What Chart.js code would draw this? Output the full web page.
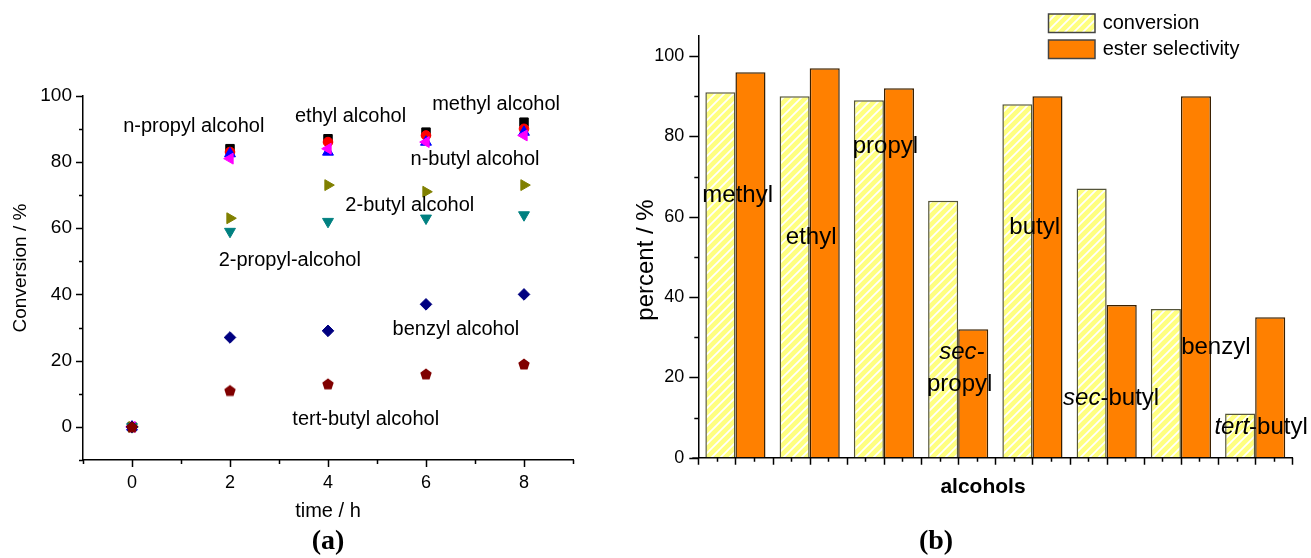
<!DOCTYPE html>
<html><head><meta charset="utf-8">
<script src="https://cdn.jsdelivr.net/npm/chart.js@4.4.0/dist/chart.umd.min.js"></script>
<style>
html,body{margin:0;padding:0;background:#fff;width:1311px;height:558px;overflow:hidden;}
#c1{position:absolute;left:0;top:0;}
#c2{position:absolute;left:620px;top:0;}
</style></head><body>
<canvas id="c1" width="620" height="558"></canvas>
<canvas id="c2" width="691" height="558"></canvas>
<script>
const FONT = "'Liberation Sans', Arial, sans-serif";
const SERIF = "'Liberation Serif', 'Times New Roman', serif";

// ---------- Panel (a) data ----------
const times      = [0, 2, 4, 6, 8];
const methylA    = [0, 84, 87, 89, 92];
const ethylA     = [0, 83, 86, 88, 90];
const nPropylA   = [0, 82.5, 83, 86, 89];
const nButylA    = [0, 81, 84, 86, 88];
const butyl2A    = [0, 63, 73, 71, 73];
const propyl2A   = [0, 59, 62, 63, 64];
const benzylA    = [0, 27, 29, 37, 40];
const tertButylA = [0, 11, 13, 16, 19];
const xTickLabelsA = [0, 2, 4, 6, 8];
const yTickLabelsA = [0, 20, 40, 60, 80, 100];
const annotationsA = [
  {text: 'n-propyl alcohol',  x: 1.26, y: 90.6},
  {text: 'ethyl alcohol',     x: 4.46, y: 93.6},
  {text: 'methyl alcohol',    x: 7.43, y: 97.2},
  {text: 'n-butyl alcohol',   x: 7.00, y: 80.6},
  {text: '2-butyl alcohol',   x: 5.67, y: 66.8},
  {text: '2-propyl-alcohol',  x: 3.22, y: 50.2},
  {text: 'benzyl alcohol',    x: 6.61, y: 29.3},
  {text: 'tert-butyl alcohol',x: 4.77, y: 2.1}
];

// ---------- Panel (b) data ----------
const alcohols         = ['methyl', 'ethyl', 'propyl', 'sec-propyl', 'butyl', 'sec-butyl', 'benzyl', 'tert-butyl'];
const conversion       = [91, 90, 89, 64, 88, 67, 37, 11];
const esterSelectivity = [96, 97, 92, 32, 90, 38, 90, 35];
const yTickLabelsB     = [0, 20, 40, 60, 80, 100];
const barLabels = [
  {parts: [['methyl', 0]],              x: 0.03, y: 65.2},
  {parts: [['ethyl', 0]],               x: 1.02, y: 54.8},
  {parts: [['propyl', 0]],              x: 2.02, y: 77.6},
  {parts: [['sec-', 1]],                x: 3.05, y: 26.2},
  {parts: [['propyl', 0]],              x: 3.02, y: 18.3},
  {parts: [['butyl', 0]],               x: 4.03, y: 57.4},
  {parts: [['sec', 1], ['-butyl', 0]],  x: 5.06, y: 14.8},
  {parts: [['benzyl', 0]],              x: 6.47, y: 27.5},
  {parts: [['tert', 1], ['-butyl', 0]], x: 7.08, y: 7.6}
];

Chart.defaults.font.family = FONT;
Chart.defaults.color = '#000';

function pentagon(color, r) {
  const c = document.createElement('canvas');
  const s = Math.ceil(2 * r + 2); c.width = s; c.height = s;
  const g = c.getContext('2d');
  g.fillStyle = color; g.beginPath();
  for (let i = 0; i < 5; i++) {
    const a = -Math.PI / 2 + i * 2 * Math.PI / 5;
    g.lineTo(s / 2 + r * Math.cos(a), s / 2 + 0.6 + r * Math.sin(a));
  }
  g.closePath(); g.fill();
  return c;
}
function hatchPattern(ctx) {
  const n = 9;
  const c = document.createElement('canvas'); c.width = n; c.height = n;
  const g = c.getContext('2d');
  g.fillStyle = '#FFFF80'; g.fillRect(0, 0, n, n);
  g.strokeStyle = '#FFFFFF'; g.lineWidth = 1.7;
  g.beginPath();
  g.moveTo(0, n); g.lineTo(n, 0);
  g.moveTo(-2, 2); g.lineTo(2, -2);
  g.moveTo(n - 2, n + 2); g.lineTo(n + 2, n - 2);
  g.stroke();
  return ctx.createPattern(c, 'repeat');
}
function pts(arr) { return times.map((t, i) => ({x: t, y: arr[i]})); }
function ds(label, arr, color, style, radius, rot, order) {
  return {label, data: pts(arr), pointStyle: style, pointRadius: radius, pointRotation: rot || 0,
    pointBackgroundColor: color, pointBorderColor: color, pointBorderWidth: 1, order};
}
function drawRich(ctx, parts, cx, cy, size) {
  let total = 0;
  const widths = parts.map(([t, it]) => { ctx.font = (it ? 'italic ' : '') + size + 'px ' + FONT; const w = ctx.measureText(t).width; total += w; return w; });
  let x = cx - total / 2;
  ctx.textAlign = 'left'; ctx.textBaseline = 'middle';
  parts.forEach(([t, it], i) => { ctx.font = (it ? 'italic ' : '') + size + 'px ' + FONT; ctx.fillText(t, x, cy); x += widths[i]; });
}

// ---------- Chart (a) ----------
const decorA = {
  id: 'decorA',
  afterDraw(chart) {
    const ctx = chart.ctx, xs = chart.scales.x, ys = chart.scales.y, ca = chart.chartArea;
    ctx.save();
    ctx.strokeStyle = '#000'; ctx.lineWidth = 1.5;
    ctx.beginPath();
    ys.ticks.forEach(t => {
      const py = Math.round(ys.getPixelForValue(t.value)) + 0.5;
      const len = (t.value % 20 === 0) ? 7 : 4;
      ctx.moveTo(ca.left - len, py); ctx.lineTo(ca.left, py);
    });
    xs.ticks.forEach(t => {
      const px = Math.round(xs.getPixelForValue(t.value)) + 0.5;
      const len = (t.value % 2 === 0) ? 7 : 4;
      ctx.moveTo(px, ca.bottom); ctx.lineTo(px, ca.bottom + len);
    });
    ctx.stroke();
    ctx.fillStyle = '#000';
    ctx.font = '20px ' + FONT; ctx.textAlign = 'center'; ctx.textBaseline = 'middle';
    annotationsA.forEach(a => ctx.fillText(a.text, xs.getPixelForValue(a.x), ys.getPixelForValue(a.y)));
    // axis titles
    ctx.font = '20px ' + FONT;
    ctx.fillText('time / h', (ca.left + ca.right) / 2, 511);
    ctx.save(); ctx.translate(21, 268); ctx.rotate(-Math.PI / 2);
    ctx.font = '19px ' + FONT; ctx.fillText('Conversion / %', 0, 0); ctx.restore();
    ctx.font = 'bold 28px ' + SERIF;
    ctx.fillText('(a)', (ca.left + ca.right) / 2, 542);
    ctx.restore();
  }
};

new Chart(document.getElementById('c1'), {
  type: 'scatter',
  data: {datasets: [
    ds('methyl alcohol',     methylA,    '#000000', 'rect',     6,   0,   8),
    ds('ethyl alcohol',      ethylA,     '#FF0000', 'circle',   4.8, 0,   7),
    ds('n-propyl alcohol',   nPropylA,   '#0000FF', 'triangle', 6.3, 0,   6),
    ds('n-butyl alcohol',    nButylA,    '#FF00FF', 'triangle', 6.3, 270, 5),
    ds('2-butyl alcohol',    butyl2A,    '#808000', 'triangle', 6.3, 90,  4),
    ds('2-propyl-alcohol',   propyl2A,   '#008080', 'triangle', 6.3, 180, 3),
    ds('benzyl alcohol',     benzylA,    '#000080', 'rectRot',  5.8, 0,   2),
    {label: 'tert-butyl alcohol', data: pts(tertButylA), pointStyle: pentagon('#800000', 6), order: 1}
  ]},
  options: {
    responsive: false, animation: false, events: [],
    layout: {padding: {left: 0, top: 95.7, right: 47, bottom: 0}},
    plugins: {legend: {display: false}, tooltip: {enabled: false}},
    scales: {
      x: {type: 'linear', min: -1, max: 9,
        afterFit: s => { s.height = 98; },
        grid: {display: true, drawOnChartArea: false, color: 'rgba(0,0,0,0)', tickLength: 7},
        border: {display: true, color: '#000', width: 1.5},
        ticks: {stepSize: 1, autoSkip: false, maxRotation: 0, padding: 5, font: {size: 18}, color: '#000',
          callback: v => xTickLabelsA.includes(v) ? String(v) : ''}},
      y: {type: 'linear', min: -10, max: 100,
        afterFit: s => { s.width = 83; },
        grid: {display: true, drawOnChartArea: false, color: 'rgba(0,0,0,0)', tickLength: 7},
        border: {display: true, color: '#000', width: 1.5},
        ticks: {stepSize: 10, autoSkip: false, padding: 4, font: {size: 19}, color: '#000',
          callback: v => yTickLabelsA.includes(v) ? String(v) : ''}}
    }
  },
  plugins: [decorA]
});

// ---------- Chart (b) ----------
const OFF = 620;
const c2 = document.getElementById('c2');
const hatch = hatchPattern(c2.getContext('2d'));
const decorB = {
  id: 'decorB',
  afterDraw(chart) {
    const ctx = chart.ctx, xs = chart.scales.x, ys = chart.scales.y, ca = chart.chartArea;
    ctx.save();
    ctx.strokeStyle = '#000'; ctx.lineWidth = 1.5;
    ctx.beginPath();
    ys.ticks.forEach(t => {
      const py = Math.round(ys.getPixelForValue(t.value)) + 0.5;
      const len = (t.value % 20 === 0) ? 9 : 4;
      ctx.moveTo(ca.left - len, py); ctx.lineTo(ca.left, py);
    });
    for (let v = -0.5; v <= alcohols.length - 0.5 + 1e-9; v += 0.25) {
      const px = Math.round(xs.getPixelForValue(v)) + 0.5;
      const major = Math.abs(v * 2 - Math.round(v * 2)) < 1e-6;
      ctx.moveTo(px, ca.bottom); ctx.lineTo(px, ca.bottom + (major ? 7 : 4));
    }
    ctx.moveTo(ca.left - 6, ca.bottom + 0.25); ctx.lineTo(ca.left, ca.bottom + 0.25);
    ctx.stroke();
    ctx.fillStyle = '#000';
    barLabels.forEach(b => drawRich(ctx, b.parts, xs.getPixelForValue(b.x), ys.getPixelForValue(b.y), 24));
    // titles
    ctx.textAlign = 'center'; ctx.textBaseline = 'middle';
    ctx.font = 'bold 21px ' + FONT;
    ctx.fillText('alcohols', 983 - OFF, 487);
    ctx.save(); ctx.translate(646 - OFF, 260); ctx.rotate(-Math.PI / 2);
    ctx.font = '24px ' + FONT; ctx.fillText('percent / %', 0, 0); ctx.restore();
    ctx.font = 'bold 28px ' + SERIF;
    ctx.fillText('(b)', 936 - OFF, 542);
    // legend
    const bx = 1048.5 - OFF, bw = 46.5, bh = 18.5;
    const items = [[chart.data.datasets[0], 14], [chart.data.datasets[1], 40]];
    items.forEach(([d, y]) => {
      ctx.fillStyle = d.backgroundColor; ctx.fillRect(bx, y, bw, bh);
      ctx.strokeStyle = '#444'; ctx.lineWidth = 1.5; ctx.strokeRect(bx, y, bw, bh);
      ctx.fillStyle = '#000'; ctx.font = '20px ' + FONT; ctx.textAlign = 'left'; ctx.textBaseline = 'middle';
      ctx.fillText(d.label, 1102.7 - OFF, y + bh / 2);
    });
    ctx.restore();
  }
};

new Chart(c2, {
  type: 'bar',
  data: {labels: alcohols, datasets: [
    {label: 'conversion', data: conversion, backgroundColor: hatch, borderColor: '#55553a', borderWidth: 1.5,
      categoryPercentage: 0.81, barPercentage: 1.0},
    {label: 'ester selectivity', data: esterSelectivity, backgroundColor: '#FF8000', borderColor: '#3a2000', borderWidth: 1.5,
      categoryPercentage: 0.81, barPercentage: 1.0}
  ]},
  options: {
    responsive: false, animation: false, events: [],
    layout: {padding: {left: 0, top: 36, right: 18.7, bottom: 0}},
    plugins: {legend: {display: false}, tooltip: {enabled: false}},
    scales: {
      x: {type: 'category', offset: true,
        afterFit: s => { s.height = 100.3; },
        grid: {display: false},
        border: {display: true, color: '#000', width: 1.5},
        ticks: {display: false}},
      y: {type: 'linear', min: 0, max: 105,
        afterFit: s => { s.width = 78.3; },
        grid: {display: true, drawOnChartArea: false, color: 'rgba(0,0,0,0)', tickLength: 9},
        border: {display: true, color: '#000', width: 1.5},
        ticks: {stepSize: 10, includeBounds: false, autoSkip: false, padding: 5, font: {size: 18}, color: '#000',
          callback: v => yTickLabelsB.includes(v) ? String(v) : ''}}
    }
  },
  plugins: [decorB]
});
</script>
</body></html>
